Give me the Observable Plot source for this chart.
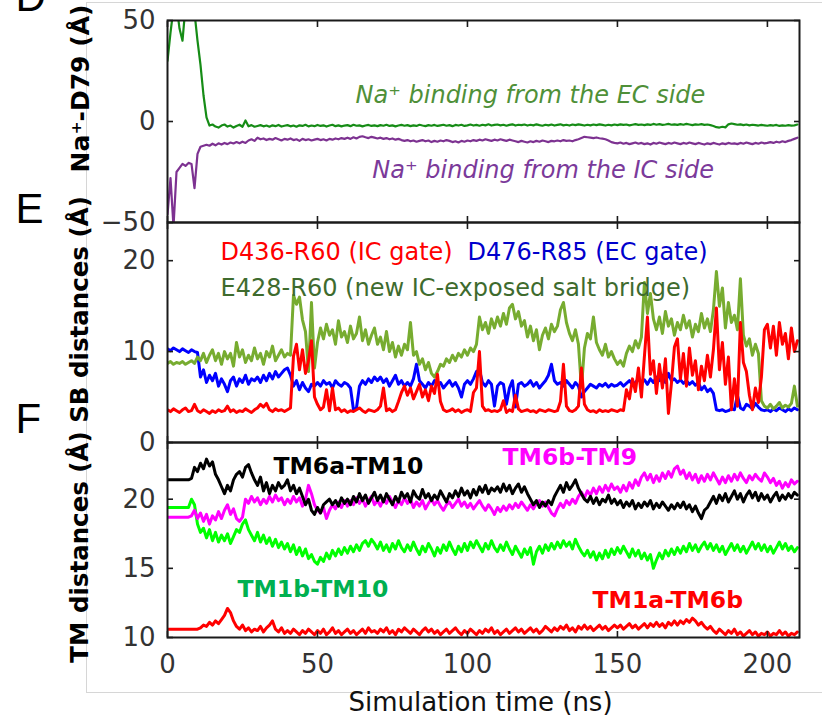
<!DOCTYPE html>
<html>
<head>
<meta charset="utf-8">
<script src="https://cdn.jsdelivr.net/npm/d3@7"></script>
<script src="https://cdn.jsdelivr.net/npm/@observablehq/plot@0.6"></script>
<style>
  body { margin: 0; background: #fff; }
  #fig { position: relative; width: 822px; height: 721px; overflow: hidden; background: #fff; font-family: "DejaVu Sans"; }
  #fig svg { position: absolute; left: 0; top: 0; }
  #border { position: absolute; left: 86px; top: 2px; width: 740px; height: 689px; border-top: 1px solid #d6d6d6; border-left: 1px solid #d6d6d6; border-bottom: 1px solid #d6d6d6; }
</style>
</head>
<body>
<div id="fig"><div id="border"></div></div>
<script>
// ---------- data (1 ns sampling, 0..210 ns) ----------
const timeNs = d3.range(0, 211);

const xTicks = [0, 50, 100, 150, 200];
const naTicks = [-50, 0, 50];
const sbTicks = [0, 10, 20];
const tmTicks = [10, 15, 20];

// Panel D: Na+ - D79 distance (Å)
const naEC = [
  30, 44, 56, 58, 46, 40, 57, 60, 58, 54,
  40, 28, 13, 2, -2, -1.5, -2.5, -3, -2, -1.5,
  -2.5, -2, -3, -2.2, -1.6, -2.6, 0.5, -2.4, -1.8, -2.6,
  -2.2, -1.8, -2.4, -2.0, -2.6, -1.9, -2.3, -1.7, -2.5, -2.1,
  -1.8, -2.4, -2.0, -2.6, -1.9, -2.2, -1.6, -2.4, -2.0, -2.3,
  -1.7, -2.2, -1.9, -2.5, -2.0, -1.6, -2.3, -1.9, -2.4, -2.0,
  -1.8, -2.3, -1.6, -2.1, -1.9, -2.4, -2.0, -1.7, -2.2, -1.9,
  -2.3, -1.8, -2.1, -1.6, -2.2, -1.9, -2.4, -2.0, -1.7, -2.1,
  -1.8, -2.3, -1.9, -2.2, -1.6, -2.0, -2.3, -1.8, -2.1, -1.7,
  -2.2, -1.9, -1.6, -2.1, -1.8, -2.3, -1.7, -2.0, -1.6, -2.2,
  -1.9, -1.5, -2.0, -1.7, -2.1, -1.6, -1.9, -1.4, -2.0, -1.7,
  -1.5, -1.9, -1.6, -2.1, -1.7, -1.4, -2.0, -1.6, -1.8, -1.5,
  -2.0, -1.6, -1.9, -1.4, -1.8, -2.1, -1.6, -1.9, -1.5, -2.0,
  -1.7, -1.4, -1.9, -1.6, -2.0, -1.5, -1.8, -1.4, -1.7, -2.0,
  -1.6, -1.9, -1.5, -1.8, -1.4, -1.7, -2.0, -1.6, -1.9, -1.5,
  -1.8, -1.4, -1.7, -1.5, -1.9, -1.6, -1.3, -1.7, -1.5, -1.8,
  -1.4, -1.7, -1.2, -1.6, -1.3, -1.7, -1.5, -1.2, -1.6, -1.4,
  -1.7, -1.3, -1.6, -1.2, -1.5, -1.8, -1.4, -1.6, -1.3, -1.7,
  -1.5, -1.8, -2.2, -2.8, -3.0, -2.6, -2.9, -1.4, -1.0, -1.3,
  -1.6, -1.4, -1.8, -1.5, -1.9, -1.6, -1.8, -2.0, -1.7, -1.9,
  -2.1, -1.8, -2.0, -1.7, -2.2, -1.9, -2.1, -1.8, -2.0, -1.9, -1.5
];
const naIC = [
  -46, -28, -52, -25, -23, -21, -22, -20.5, -21, -33,
  -16, -12.5, -12, -11.5, -12, -11, -11.8, -10.8, -11.4, -10.6,
  -11.2, -10.4, -10.9, -10.2, -10.8, -10.0, -10.6, -9.4, -8.8, -9.6,
  -8.0, -8.8, -8.4, -9.2, -8.6, -9.0, -8.2, -8.8, -9.4, -8.6,
  -9.0, -8.4, -9.2, -8.8, -9.6, -8.6, -9.2, -8.8, -9.4, -9.0,
  -8.6, -9.2, -8.8, -9.4, -8.6, -9.0, -8.4, -8.8, -8.2, -8.6,
  -8.0, -8.6, -7.8, -8.4, -7.6, -7.3, -7.8, -8.2, -7.6, -8.0,
  -8.4, -8.0, -8.6, -8.2, -8.8, -8.4, -9.0, -8.6, -9.2, -9.6,
  -9.2, -9.8, -9.4, -10.0, -9.6, -9.2, -9.8, -9.4, -10.2, -9.6,
  -10.0, -9.4, -9.8, -9.2, -9.6, -10.2, -9.8, -10.4, -9.6, -10.0,
  -9.4, -9.8, -9.2, -9.6, -9.0, -9.4, -8.8, -9.2, -9.6, -9.0,
  -9.4, -8.8, -9.2, -9.6, -9.0, -9.4, -9.8, -10.2, -9.6, -10.0,
  -10.4, -9.8, -10.2, -9.6, -10.0, -9.4, -9.8, -10.2, -9.6, -9.8,
  -9.4, -9.8, -9.2, -9.6, -9.4, -9.8, -9.2, -8.8, -8.2, -7.6,
  -7.8, -8.0, -8.2, -7.9, -8.3, -8.5, -8.8, -9.4, -10.2, -10.6,
  -10.8, -10.4, -11.0, -10.6, -11.2, -10.8, -10.4, -11.0, -10.6, -11.2,
  -10.8, -11.4, -10.6, -11.0, -10.4, -10.8, -11.2, -10.6, -11.0, -10.4,
  -10.8, -11.2, -10.6, -11.0, -10.4, -10.8, -11.2, -10.6, -11.0, -11.4,
  -10.8, -11.2, -10.6, -11.0, -11.4, -10.8, -11.2, -10.6, -11.0, -10.8,
  -11.2, -10.6, -11.0, -10.4, -10.8, -11.2, -10.6, -11.0, -10.4, -10.8,
  -10.6, -10.2, -10.6, -10.0, -10.4, -9.8, -10.2, -9.6, -9.2, -8.6, -8.0
];

// Panel E: salt-bridge distances (Å)
const sbIC = [ // D436-R60
  3.6, 3.4, 3.7, 3.5, 3.3, 3.6, 3.8, 3.4, 3.5, 4.2,
  3.5, 3.3, 3.6, 3.4, 3.2, 3.5, 3.3, 3.6, 3.4, 3.5,
  4.0, 3.4, 3.6, 3.3, 3.5, 3.4, 3.7, 3.5, 3.3, 3.6,
  3.8, 4.2, 3.9, 4.3, 3.6, 3.4, 3.7, 3.5, 3.6, 3.4,
  3.6, 3.8, 9.5, 10.8, 8.0, 10.2, 7.6, 9.0, 11.2, 5.0,
  4.2, 3.6, 3.9, 5.8, 3.5, 6.0, 3.6, 3.8, 3.4, 3.6,
  3.3, 3.5, 3.4, 3.6, 3.8, 3.5, 3.3, 3.6, 3.5, 3.4,
  3.6, 4.0, 6.0, 3.5, 3.7, 3.4, 3.6, 4.5, 5.5, 6.2,
  5.2, 6.0, 4.8, 5.6, 6.4, 5.0, 5.8, 4.6, 6.2, 5.4,
  7.5, 4.5, 3.6, 3.4, 3.5, 3.7, 3.4, 3.6, 3.3, 3.5,
  3.6, 3.4, 5.5, 6.0, 10.0, 4.0, 3.5, 3.6, 3.4, 3.5,
  3.4, 3.6, 4.6, 3.3, 3.6, 3.4, 5.2, 3.7, 3.4, 3.5,
  3.6, 3.4, 3.5, 3.3, 3.6, 3.5, 3.4, 3.6, 3.5, 3.4,
  3.5, 4.5, 8.6, 4.0, 3.5, 3.4, 3.6, 4.0, 8.2, 4.2,
  3.6, 3.4, 3.5, 3.3, 3.6, 3.4, 3.5, 3.4, 3.6, 3.5,
  3.4, 3.6, 3.5, 5.8, 4.8, 7.0, 5.6, 8.2, 5.0, 9.5,
  13.8, 7.5, 9.0, 5.4, 8.6, 6.0, 9.2, 3.2, 6.5, 10.5,
  11.4, 7.0, 9.8, 6.2, 10.4, 7.4, 9.0, 5.8, 8.4, 6.8,
  9.6, 7.2, 10.2, 14.8, 8.0, 11.0, 6.4, 9.4, 3.6, 7.0,
  4.0, 13.2, 8.8, 7.8, 5.2, 3.6, 6.0, 4.4, 7.2, 12.4,
  13.0, 10.4, 12.8, 9.6, 13.2, 10.8, 12.0, 9.2, 12.6, 10.0, 11.2
];
const sbEC = [ // D476-R85
  10.3, 10.1, 10.4, 10.2, 10.0, 10.3, 10.1, 9.9, 10.2, 10.0,
  9.9, 7.2, 8.0, 6.6, 7.4, 6.8, 7.6, 6.2, 7.0, 6.4,
  5.6, 6.8, 7.2, 6.2, 7.0, 6.6, 7.4, 6.4, 7.0, 6.8,
  7.2, 6.6, 7.4, 6.8, 7.6, 7.0, 7.8, 7.2, 7.6, 8.0,
  8.2, 7.4, 6.2, 6.8, 5.8, 6.6, 6.0, 5.6, 6.4, 6.2,
  6.6, 6.2, 6.8, 6.4, 6.6, 6.0, 6.8, 6.4, 6.2, 6.6,
  6.4, 6.0, 3.6, 3.8, 6.2, 6.8, 6.4, 7.0, 6.6, 7.2,
  6.8, 7.2, 6.6, 7.0, 6.2, 6.8, 7.4, 6.4, 6.8, 6.2,
  6.6, 6.2, 7.0, 8.6, 6.8, 6.4, 6.0, 6.6, 6.2, 6.8,
  6.4, 6.6, 6.0, 6.4, 6.8, 6.2, 6.6, 6.0, 5.0, 6.4,
  6.8, 6.4, 7.0, 7.8, 8.0, 6.6, 6.2, 6.8, 6.4, 4.0,
  6.2, 6.6, 6.4, 4.2, 6.0, 6.8, 3.9, 6.4, 6.6, 6.2,
  6.4, 6.8, 6.2, 6.6, 6.0, 6.4, 6.8, 7.4, 8.6, 6.8,
  6.4, 6.6, 6.2, 6.8, 6.4, 6.0, 6.6, 6.2, 5.0, 5.6,
  6.0, 6.4, 6.2, 6.0, 6.4, 6.2, 6.5, 6.1, 6.4, 6.2,
  6.3, 6.6, 6.2, 6.5, 6.8, 6.4, 6.6, 7.0, 6.6, 6.9,
  6.4, 7.0, 6.6, 7.2, 6.8, 7.4, 6.6, 7.6, 6.8, 7.0,
  6.6, 6.9, 6.5, 6.8, 6.4, 6.7, 6.3, 6.6, 5.8, 6.2,
  5.6, 5.9, 5.4, 3.6, 3.5, 3.6, 3.4, 3.5, 3.7, 3.6,
  5.2, 3.8, 3.6, 4.2, 4.0, 3.7, 4.3, 3.9, 3.6, 3.5,
  3.6, 3.4, 3.7, 3.5, 3.8, 3.6, 3.4, 3.7, 3.5, 3.8, 3.6
];
const sbNew = [ // E428-R60
  8.7, 8.9, 8.6, 8.8, 8.7, 8.9, 8.6, 8.8, 9.0, 8.7,
  9.4, 9.0, 9.8, 8.8, 9.6, 10.2, 9.0, 9.8, 8.6, 10.0,
  9.2, 9.8, 8.4, 11.0, 9.4, 10.2, 8.8, 9.6, 9.0, 10.4,
  9.2, 9.8, 8.6, 10.0, 9.4, 10.6, 9.0, 9.6, 10.2, 9.4,
  9.8, 9.6, 16.2, 15.2, 16.0, 13.5, 12.2, 7.8, 15.4, 8.2,
  11.0, 12.6, 11.4, 13.0, 11.8, 12.4, 10.8, 13.4, 11.6, 12.2,
  11.0, 12.8, 11.4, 12.0, 13.8, 11.2, 12.4, 10.8, 11.8, 12.6,
  10.8, 11.6, 10.2, 12.2, 10.0, 11.0, 9.4, 10.6, 9.6, 10.8,
  10.2, 13.2, 9.6, 10.0, 8.6, 9.2, 8.0, 8.8, 7.6, 7.2,
  7.8, 8.6, 8.4, 9.2, 8.8, 9.6, 9.0, 9.8, 9.4, 10.2,
  9.6, 10.4, 10.0, 10.8, 13.8, 12.4, 13.2, 12.0, 13.6, 12.6,
  13.8, 12.8, 14.2, 13.0, 14.8, 15.2, 13.6, 14.4, 12.8, 13.4,
  11.6, 12.8, 11.2, 12.4, 10.2, 11.8, 12.6, 11.4, 13.0, 12.2,
  12.8, 14.6, 15.4, 13.2, 12.0, 11.2, 12.4, 10.8, 6.0, 10.4,
  12.0, 11.4, 13.8, 11.0, 10.2, 9.6, 10.8, 9.4, 10.0, 9.2,
  8.6, 9.0, 8.4, 9.8, 10.6, 10.0, 11.2, 10.4, 11.6, 17.6,
  14.2, 16.4, 13.6, 12.4, 13.8, 12.0, 14.4, 12.8, 13.6, 11.8,
  13.2, 12.4, 14.0, 12.6, 13.4, 11.6, 13.0, 12.2, 14.2, 12.6,
  13.6, 12.2, 14.6, 18.8, 15.0, 17.0, 12.6, 15.4, 13.2, 14.0,
  12.4, 18.0, 11.8, 10.6, 11.4, 9.6, 10.8, 9.8, 4.6, 4.0,
  3.8, 4.2, 3.7, 4.0, 4.4, 3.8, 4.1, 3.9, 4.3, 6.2, 4.0
];

// Panel F: TM distances (Å)
const tm6a10 = [
  21.4, 21.4, 21.4, 21.4, 21.4, 21.4, 21.4, 21.4, 21.5, 22.3,
  22.0, 22.6, 22.2, 22.9, 22.4, 22.7, 21.8, 21.4, 20.9, 20.4,
  21.0, 20.6, 21.4, 21.8, 22.0, 21.6, 22.3, 22.5, 21.9, 21.4,
  21.0, 21.6, 20.6, 21.2, 20.4, 21.0, 20.6, 21.2, 20.8, 21.0,
  21.4, 20.6, 21.0, 20.4, 20.8, 20.2, 19.6, 20.0, 19.2, 18.9,
  19.4, 19.0, 19.6, 19.8, 20.0, 19.6, 19.9, 19.5, 20.1, 19.7,
  20.0, 19.6, 20.2, 19.8, 20.4, 19.9, 20.3, 19.7, 20.1, 20.5,
  19.9, 20.3, 19.8, 20.4, 20.0, 19.6, 20.2, 19.8, 20.5, 20.1,
  20.4, 19.8, 20.6, 20.2, 20.0, 20.7, 20.1, 20.4, 19.9, 20.3,
  20.0, 20.6, 20.2, 19.8, 20.4, 20.1, 20.6, 20.2, 20.8, 20.3,
  20.6, 20.1, 20.7, 20.3, 20.9, 20.5, 21.0, 20.4, 20.8, 20.6,
  20.9, 20.5, 21.1, 20.6, 21.0, 20.4, 20.8, 21.1, 20.5, 20.9,
  20.4, 20.0, 19.6, 19.9, 19.4, 19.8, 19.5, 19.9, 19.6, 20.2,
  20.6, 21.0, 20.5, 21.2, 20.7, 21.0, 21.4, 20.8, 20.4, 20.0,
  19.8, 20.2, 19.7, 20.1, 19.6, 20.0, 19.8, 20.3, 19.7, 20.0,
  19.6, 19.9, 19.4, 19.8, 19.5, 19.9, 19.3, 19.7, 19.4, 19.8,
  19.5, 19.9, 19.3, 19.7, 19.4, 19.8, 19.5, 19.2, 19.6, 19.3,
  19.7, 19.4, 19.8, 19.3, 19.6, 19.1, 19.5, 19.0, 18.6, 19.2,
  19.4, 19.8, 20.2, 19.7, 20.3, 19.9, 20.4, 19.8, 20.2, 20.6,
  20.0, 20.4, 19.8, 20.3, 20.6, 20.1, 20.5, 19.9, 20.4, 20.0,
  20.3, 19.8, 20.2, 20.5, 19.9, 20.3, 20.0, 20.4, 20.1, 20.5, 20.3
];
const tm6b9 = [
  18.7, 18.7, 18.7, 18.7, 18.7, 18.7, 18.7, 18.7, 18.8, 19.2,
  18.6, 19.0, 18.4, 18.9, 18.2, 18.8, 18.5, 19.1, 18.6, 19.2,
  19.6, 18.9, 19.3, 18.6, 18.4, 18.7, 20.0, 19.7, 20.2, 19.8,
  20.1, 19.6, 20.0, 19.7, 20.2, 19.8, 20.3, 19.9, 20.1, 19.6,
  20.0, 19.7, 20.2, 19.8, 20.1, 19.5, 20.0, 21.0, 20.4, 19.6,
  19.2, 19.0, 19.4, 18.6, 19.2, 19.6, 19.3, 19.8, 19.4, 19.9,
  19.5, 19.9, 19.6, 20.1, 19.7, 20.0, 19.5, 19.9, 20.2, 19.6,
  19.9, 19.5, 20.0, 19.7, 20.2, 19.8, 19.4, 19.9, 19.6, 20.1,
  19.7, 20.0, 19.4, 19.8, 19.5, 19.9, 19.3, 19.7, 20.0, 19.6,
  19.9, 19.5, 19.2, 19.6, 19.8, 19.4, 19.7, 20.0, 19.5, 19.8,
  19.4, 19.7, 19.3, 19.6, 19.9, 19.5, 19.2, 19.6, 19.3, 18.9,
  19.4, 19.1, 19.5, 19.2, 19.6, 19.3, 19.7, 19.4, 19.8, 19.5,
  19.2, 19.6, 19.3, 19.7, 19.9, 19.5, 19.8, 19.4, 19.0, 18.8,
  19.3, 19.7, 19.4, 19.9, 19.6, 20.0, 19.7, 20.2, 20.5, 20.1,
  20.6, 20.3, 20.8, 20.4, 20.9, 20.5, 21.0, 20.6, 21.1, 20.7,
  20.9, 20.5, 21.0, 20.6, 21.2, 20.8, 21.4, 21.0, 21.6, 21.9,
  21.4, 21.8, 21.2, 21.7, 21.3, 21.9, 21.5, 22.0, 21.6, 22.2,
  22.4, 21.8, 22.1, 21.5, 21.9, 21.4, 21.8, 21.2, 21.7, 21.3,
  21.8, 21.4, 21.9, 21.5, 21.1, 21.6, 21.2, 21.7, 21.3, 21.8,
  21.4, 21.9, 21.5, 21.2, 21.7, 21.4, 21.8, 21.5, 21.3, 21.9,
  21.6, 21.2, 21.5, 21.0, 21.3, 20.8, 21.2, 20.9, 21.4, 21.1, 21.3
];
const tm1b10 = [
  19.4, 19.4, 19.4, 19.4, 19.4, 19.4, 19.4, 19.4, 20.0, 19.6,
  18.2, 17.6, 17.9, 17.2, 17.8, 17.0, 17.6, 16.9, 17.4, 17.0,
  17.5, 16.8, 17.3, 17.8, 17.6, 18.2, 18.5, 17.8, 17.4, 17.0,
  17.6, 16.9, 17.4, 16.8, 17.2, 16.6, 17.1, 16.5, 16.9, 16.4,
  16.8, 16.2, 16.7, 16.0, 16.5, 15.9, 16.4, 15.7, 16.0, 15.5,
  15.3, 15.8, 15.5, 16.1, 15.7, 16.3, 15.9, 16.4, 16.0, 16.5,
  16.1, 16.6, 16.2, 16.7, 16.3, 16.8, 17.0, 16.6, 17.1, 16.8,
  16.4, 16.9, 16.3, 16.7, 16.2, 16.8, 16.4, 17.0, 16.5, 16.2,
  16.7, 16.3, 16.9, 16.4, 16.0, 16.6, 16.2, 16.8, 16.4, 15.9,
  16.5, 16.1, 16.7, 16.3, 16.9, 16.4, 16.0, 16.6, 16.2, 16.8,
  16.3, 16.9, 16.5, 17.0, 16.6, 16.2, 16.8, 16.4, 17.0, 16.5,
  16.2, 16.7, 16.3, 16.9, 16.4, 16.0, 16.6, 16.2, 15.8, 16.4,
  16.0, 16.5, 15.3, 16.2, 16.6, 16.1, 16.7, 16.3, 16.8, 16.4,
  16.9, 16.5, 17.0, 16.6, 16.9, 16.4, 17.1, 16.6, 16.2, 15.9,
  16.3, 15.8, 16.2, 15.6, 16.1, 15.7, 16.3, 15.8, 16.4, 16.0,
  16.5, 16.1, 16.6, 16.2, 15.8, 16.4, 15.9, 16.3, 15.7, 16.1,
  15.6, 16.0, 15.0, 15.6, 16.1, 15.7, 16.3, 15.9, 16.4, 16.0,
  16.5, 16.1, 16.6, 16.2, 16.8, 16.3, 16.7, 16.2, 16.6, 16.9,
  16.4, 16.8, 16.3, 16.7, 16.2, 16.6, 16.0, 16.4, 16.8, 16.3,
  16.7, 16.2, 16.6, 16.1, 16.5, 16.9, 16.4, 16.8, 16.3, 16.7,
  16.2, 16.6, 16.1, 16.5, 16.9, 16.4, 16.8, 16.3, 16.6, 16.2, 16.5
];
const tm1a6b = [
  10.6, 10.6, 10.6, 10.6, 10.6, 10.6, 10.6, 10.6, 10.6, 10.6,
  10.6, 10.7, 10.9, 10.8, 11.1, 10.9, 11.2, 11.0, 11.3, 11.6,
  12.1, 11.8, 11.2, 10.8, 10.6, 10.9, 10.5, 10.7, 10.4, 10.6,
  10.5, 10.8, 10.4, 10.7, 10.9, 11.2, 10.6, 10.4, 10.7, 10.3,
  10.5, 10.3, 10.6, 10.4, 10.2, 10.5, 10.3, 10.6, 10.4, 10.2,
  10.5, 10.3, 10.6, 10.2, 10.4, 10.7, 10.3, 10.5, 10.2, 10.4,
  10.6, 10.3, 10.5, 10.2, 10.4, 10.6, 10.3, 10.7, 10.4, 10.5,
  10.3, 10.6, 10.4, 10.7, 10.3, 10.5, 10.2, 10.6, 10.4, 10.7,
  10.5, 10.3, 10.6, 10.4, 10.2, 10.5, 10.7, 10.4, 10.6, 10.3,
  10.5, 10.2, 10.4, 10.6, 10.3, 10.5, 10.7, 10.4, 10.2, 10.5,
  10.3, 10.6, 10.4, 10.2, 10.5, 10.3, 10.6, 10.4, 10.7, 10.3,
  10.5, 10.2, 10.4, 10.6, 10.3, 10.5, 10.7, 10.4, 10.6, 10.3,
  10.5, 10.7, 10.4, 10.6, 10.3, 10.5, 10.8, 10.6, 10.4, 10.7,
  10.5, 10.8, 10.6, 10.9, 10.5, 10.7, 10.4, 10.8, 10.6, 10.9,
  10.6, 10.8, 10.5, 10.7, 10.9, 10.6, 10.8, 10.5, 10.7, 10.9,
  10.7, 10.9, 10.6, 10.8, 11.0, 10.7, 10.9, 10.6, 10.8, 11.0,
  10.7, 11.0, 10.8, 11.1, 10.8, 11.0, 10.7, 11.1, 10.9, 11.2,
  10.9, 11.2, 11.0, 11.3, 11.1, 11.4, 11.2, 10.9, 11.1, 10.8,
  10.6, 10.8, 10.5, 10.3, 10.6, 10.4, 10.2, 10.5, 10.3, 10.6,
  10.2, 10.4, 10.1, 10.3, 10.5, 10.2, 10.4, 10.1, 10.3, 10.2,
  10.4, 10.1, 10.3, 10.2, 10.5, 10.2, 10.4, 10.1, 10.3, 10.2, 10.4
];

// text labels
const naTitle = "Na⁺-D79 (Å)";
const sbTitle = "SB distances (Å)";
const tmTitle = "TM distances (Å)";
const xTitle = "Simulation time (ns)";
const naNotes = ["Na⁺ binding from the EC side", "Na⁺ binding from the IC side"];
const sbNotes = ["D436-R60 (IC gate)", "D476-R85 (EC gate)", "E428-R60 (new IC-exposed salt bridge)"];
const tmNotes = ["TM6a-TM10", "TM6b-TM9", "TM1b-TM10", "TM1a-TM6b"];
const panelLetters = ["D", "E", "F"];

// ---------- drawing ----------
const W = 822, H = 721;
const rows = vals => timeNs.map((t, i) => ({t, v: vals[i]}));
const fmt = d => d < 0 ? "\u2212" + Math.abs(d) : String(d);
const ink = "#1a1a1a";

function frameMarks(ticks, showX) {
  const m = [
    Plot.frame({stroke: ink, strokeWidth: 2}),
    Plot.axisY({anchor: "left", ticks, tickSize: 6, dx: 6, fill: "none", label: null, stroke: ink, strokeWidth: 1.6}),
    Plot.axisY({anchor: "right", ticks, tickSize: 6, dx: -6, fill: "none", label: null, stroke: ink, strokeWidth: 1.6}),
    Plot.axisX({anchor: "bottom", ticks: xTicks, tickSize: 6, dy: -6, fill: "none", label: null, stroke: ink, strokeWidth: 1.6}),
    Plot.axisX({anchor: "top", ticks: xTicks, tickSize: 6, dy: 6, fill: "none", label: null, stroke: ink, strokeWidth: 1.6}),
    Plot.axisY({anchor: "left", ticks, tickSize: 0, tickPadding: 12, tickFormat: fmt, label: null, fontSize: 26, fill: "#333"})
  ];
  if (showX) m.push(Plot.axisX({anchor: "bottom", ticks: xTicks, tickSize: 0, tickPadding: 17, tickFormat: fmt, label: null, fontSize: 26, fill: "#333"}));
  return m;
}

function yTitle(text, dy, size) {
  return Plot.text([text], {text: d => d, frameAnchor: "left", rotate: -90, dx: -87, dy, fontSize: size, fontWeight: "bold", fill: "#000", textAnchor: "middle", lineAnchor: "middle"});
}

function letter(text, dy) {
  return Plot.text([text], {text: d => d, frameAnchor: "top-left", dx: -152, dy, fontSize: 42, fontFamily: "Liberation Sans", fill: "#000", textAnchor: "start", lineAnchor: "middle"});
}

function panel(top, bottom, domain, marks) {
  return Plot.plot({
    width: W, height: H,
    marginLeft: 167, marginRight: 23, marginTop: top, marginBottom: H - bottom,
    x: {domain: [0, 210.7]},
    y: {domain},
    style: {background: "transparent", fontFamily: "DejaVu Sans", overflow: "visible"},
    marks
  });
}

const fig = document.getElementById("fig");

// Panel D
fig.appendChild(panel(20, 222, [-50, 50], [
  Plot.line(rows(naEC), {x: "t", y: "v", stroke: "#168c16", strokeWidth: 2.2, clip: true}),
  Plot.line(rows(naIC), {x: "t", y: "v", stroke: "#7d3291", strokeWidth: 2.2, clip: true}),
  ...frameMarks(naTicks, false),
  Plot.text([{t: 62.7, v: 13.2}], {x: "t", y: "v", text: () => naNotes[0], fill: "#4f9038", fontStyle: "italic", fontSize: 24, textAnchor: "start"}),
  Plot.text([{t: 68.3, v: -24.4}], {x: "t", y: "v", text: () => naNotes[1], fill: "#7b3a9a", fontStyle: "italic", fontSize: 24, textAnchor: "start"}),
  yTitle(naTitle, -33, 25),
  letter(panelLetters[0], -23.4),
  letter(panelLetters[1], 188.6),
  letter(panelLetters[2], 398.6)
]));

// Panel E
fig.appendChild(panel(222, 442, [0, 24.2], [
  Plot.line(rows(sbEC), {x: "t", y: "v", stroke: "#0000ff", strokeWidth: 3, clip: true}),
  Plot.line(rows(sbNew), {x: "t", y: "v", stroke: "#77ac30", strokeWidth: 3, clip: true}),
  Plot.line(rows(sbIC), {x: "t", y: "v", stroke: "#ff0000", strokeWidth: 3, clip: true}),
  ...frameMarks(sbTicks, false),
  Plot.text([{t: 17.7, v: 20.9}], {x: "t", y: "v", text: () => sbNotes[0], fill: "#ff0000", fontSize: 24, textAnchor: "start"}),
  Plot.text([{t: 100, v: 20.9}], {x: "t", y: "v", text: () => sbNotes[1], fill: "#0000cc", fontSize: 24, textAnchor: "start"}),
  Plot.text([{t: 17.7, v: 17.0}], {x: "t", y: "v", text: () => sbNotes[2], fill: "#3e6b2e", fontSize: 24, textAnchor: "start"}),
  yTitle(sbTitle, -23, 24.5)
]));

// Panel F
fig.appendChild(panel(442, 637, [10, 24.1], [
  Plot.line(rows(tm1a6b), {x: "t", y: "v", stroke: "#ff0000", strokeWidth: 3, clip: true}),
  Plot.line(rows(tm1b10), {x: "t", y: "v", stroke: "#00ff00", strokeWidth: 3, clip: true}),
  Plot.line(rows(tm6b9), {x: "t", y: "v", stroke: "#ff00ff", strokeWidth: 3, clip: true}),
  Plot.line(rows(tm6a10), {x: "t", y: "v", stroke: "#000000", strokeWidth: 3, clip: true}),
  ...frameMarks(tmTicks, true),
  Plot.text([{t: 35.3, v: 22.4}], {x: "t", y: "v", text: () => tmNotes[0], fill: "#000000", fontSize: 23.5, fontWeight: "bold", textAnchor: "start"}),
  Plot.text([{t: 111.7, v: 23.0}], {x: "t", y: "v", text: () => tmNotes[1], fill: "#ff00ff", fontSize: 23.5, fontWeight: "bold", textAnchor: "start"}),
  Plot.text([{t: 23.3, v: 13.45}], {x: "t", y: "v", text: () => tmNotes[2], fill: "#00b050", fontSize: 23.5, fontWeight: "bold", textAnchor: "start"}),
  Plot.text([{t: 141.7, v: 12.65}], {x: "t", y: "v", text: () => tmNotes[3], fill: "#ff0000", fontSize: 23.5, fontWeight: "bold", textAnchor: "start"}),
  yTitle(tmTitle, 7, 24.5),
  Plot.text([xTitle], {text: d => d, frameAnchor: "bottom", dx: -3, dy: 64.7, fontSize: 26, fill: "#111", textAnchor: "middle", lineAnchor: "middle"})
]));
</script>
</body>
</html>
